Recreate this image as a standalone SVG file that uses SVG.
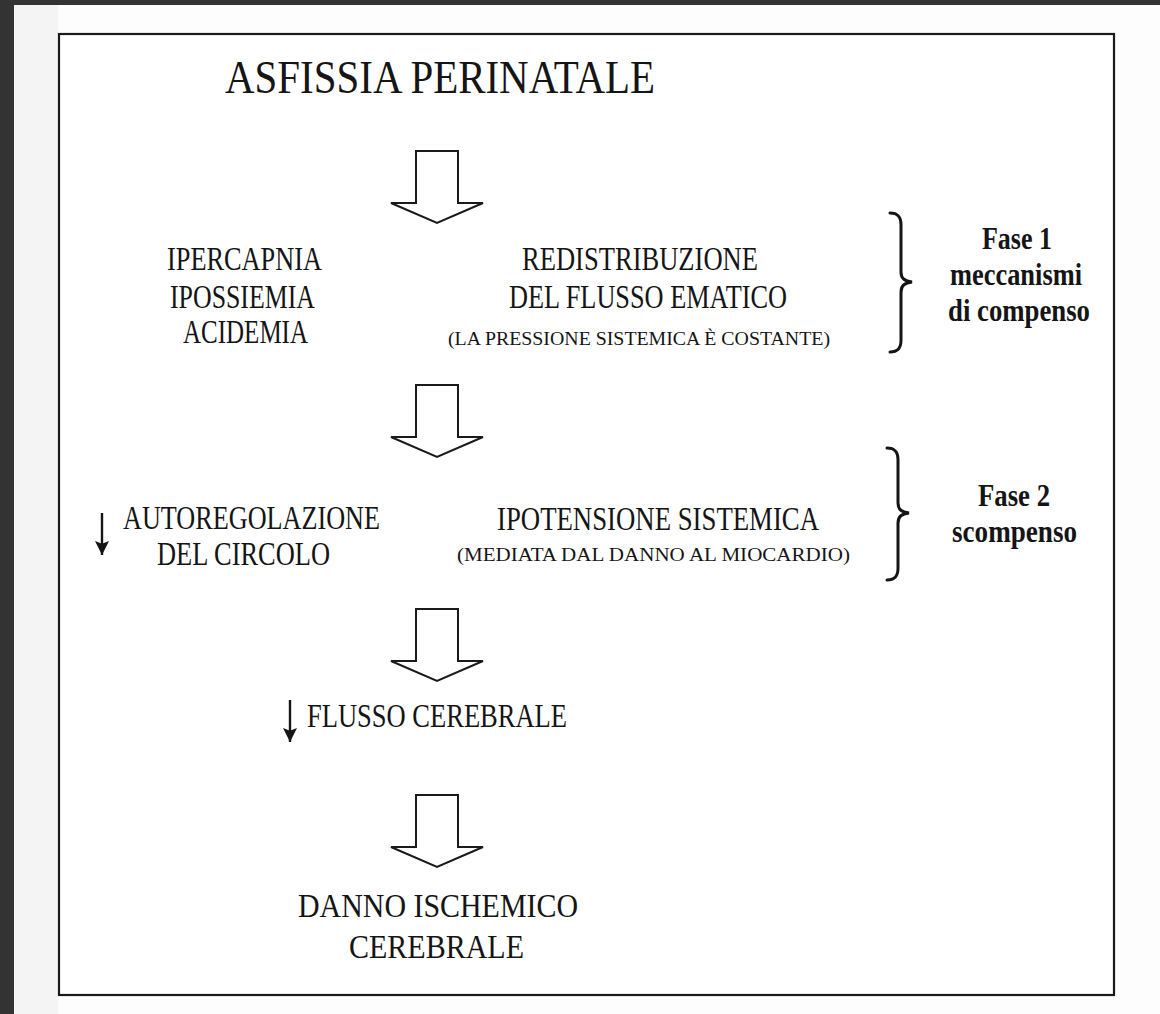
<svg xmlns="http://www.w3.org/2000/svg" width="1160" height="1014" viewBox="0 0 1160 1014">
<style>
.t{font-family:"Liberation Serif","Times New Roman",serif;fill:#151515;}
.b{font-family:"Liberation Serif","Times New Roman",serif;font-weight:bold;fill:#151515;}
.arrow{fill:#fff;stroke:#1a1a1a;stroke-width:2;stroke-linejoin:miter;}
.brace{fill:none;stroke:#151515;stroke-width:3;stroke-linecap:round;}
.small{stroke:#151515;stroke-width:2.4;fill:none;}
</style>
<defs>
<marker id="dhead" viewBox="0 0 10 10" refX="10" refY="5" markerWidth="14" markerHeight="14" markerUnits="userSpaceOnUse" orient="auto">
<path d="M0,0 L10,5 L0,10 L2,5 Z" fill="#151515"/>
</marker>
<path id="bigArrow" d="M-21,0 L21,0 L21,52 L46,52 L0,72 L-46,52 L-21,52 Z"/>
</defs>
<rect x="0" y="0" width="1160" height="1014" fill="#fdfdfd"/>
<rect x="0" y="0" width="14" height="1014" fill="#333"/>
<rect x="0" y="0" width="1160" height="5" fill="#333"/>
<rect x="14" y="5" width="44" height="1009" fill="#f4f4f4"/>
<rect id="frame" x="59" y="34" width="1055" height="961" fill="#fff" stroke="#1a1a1a" stroke-width="2.2"/>

<g id="title"><text class="t" x="225" y="93" font-size="47" textLength="430" lengthAdjust="spacingAndGlyphs">ASFISSIA PERINATALE</text></g>

<g id="ipercapnia">
<text class="t" x="167" y="270" font-size="33" textLength="155" lengthAdjust="spacingAndGlyphs">IPERCAPNIA</text>
<text class="t" x="170" y="308" font-size="33" textLength="145" lengthAdjust="spacingAndGlyphs">IPOSSIEMIA</text>
<text class="t" x="183" y="343" font-size="33" textLength="125" lengthAdjust="spacingAndGlyphs">ACIDEMIA</text>
</g>

<g id="redistribuzione">
<text class="t" x="522" y="270" font-size="33" textLength="236" lengthAdjust="spacingAndGlyphs">REDISTRIBUZIONE</text>
<text class="t" x="509" y="308" font-size="33" textLength="278" lengthAdjust="spacingAndGlyphs">DEL FLUSSO EMATICO</text>
<text class="t" x="448" y="345" font-size="19" textLength="382" lengthAdjust="spacingAndGlyphs">(LA PRESSIONE SISTEMICA È COSTANTE)</text>
</g>

<g id="fase1">
<path class="brace" d="M890,213 C898,213 901,217 901,225 L901,272 C901,279 905,281 912,282 C905,283 901,285 901,292 L901,340 C901,348 898,352 890,352"/>
<text class="b" x="982" y="249" font-size="31" textLength="70" lengthAdjust="spacingAndGlyphs">Fase 1</text>
<text class="b" x="950" y="285" font-size="31" textLength="132" lengthAdjust="spacingAndGlyphs">meccanismi</text>
<text class="b" x="948" y="321" font-size="31" textLength="142" lengthAdjust="spacingAndGlyphs">di compenso</text>
</g>

<g id="autoregolazione">
<line class="small" x1="102" y1="513" x2="102" y2="555" marker-end="url(#dhead)"/>
<text class="t" x="123" y="529" font-size="33" textLength="257" lengthAdjust="spacingAndGlyphs">AUTOREGOLAZIONE</text>
<text class="t" x="157" y="565" font-size="33" textLength="173" lengthAdjust="spacingAndGlyphs">DEL CIRCOLO</text>
</g>

<g id="ipotensione">
<text class="t" x="497" y="530" font-size="33" textLength="322" lengthAdjust="spacingAndGlyphs">IPOTENSIONE SISTEMICA</text>
<text class="t" x="457" y="561" font-size="19" textLength="393" lengthAdjust="spacingAndGlyphs">(MEDIATA DAL DANNO AL MIOCARDIO)</text>
</g>

<g id="fase2">
<path class="brace" d="M887,448 C895,448 898,452 898,460 L898,503 C898,510 902,512 909,513 C902,514 898,516 898,523 L898,568 C898,576 895,580 887,580"/>
<text class="b" x="978" y="506" font-size="31" textLength="72" lengthAdjust="spacingAndGlyphs">Fase 2</text>
<text class="b" x="952" y="542" font-size="31" textLength="125" lengthAdjust="spacingAndGlyphs">scompenso</text>
</g>

<g id="flusso">
<line class="small" x1="290" y1="700" x2="290" y2="742" marker-end="url(#dhead)"/>
<text class="t" x="307" y="727" font-size="33" textLength="260" lengthAdjust="spacingAndGlyphs">FLUSSO CEREBRALE</text>
</g>

<g id="danno">
<text class="t" x="298" y="917" font-size="33" textLength="280" lengthAdjust="spacingAndGlyphs">DANNO ISCHEMICO</text>
<text class="t" x="349" y="958" font-size="33" textLength="175" lengthAdjust="spacingAndGlyphs">CEREBRALE</text>
</g>

<g id="connectors">
<use href="#bigArrow" class="arrow" transform="translate(437,151)"/>
<use href="#bigArrow" class="arrow" transform="translate(437,385)"/>
<use href="#bigArrow" class="arrow" transform="translate(437,609)"/>
<use href="#bigArrow" class="arrow" transform="translate(437,795)"/>
</g>
</svg>
